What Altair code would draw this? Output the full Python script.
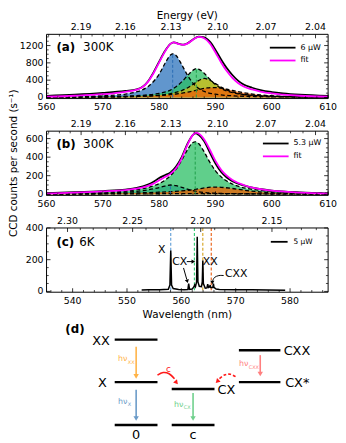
import altair as alt
import pandas as pd

FONT = "DejaVu Sans"
W, H = 285, 65
HD = 115
HC = 1239.84
TOP_A, TOP_B, TOP_C, TOP_D = 0, 98, 196, 296
H_TOTAL = TOP_D + HD

# ---------------- panel (a) ----------------
a_xdom = [560, 610]
a_ydom = [-25, 1460]
a_wl = [560, 565, 570, 574, 576, 577, 578, 579, 580, 581, 582, 582.6, 583.5, 584.3, 585, 586, 587, 588, 589, 590,
        591, 592, 593, 594, 595, 596.5, 598, 600, 602, 605, 610]
a_data = [38, 65, 105, 150, 185, 240, 370, 580, 830, 1070, 1240, 1275, 1240, 1220, 1250, 1340, 1405, 1390, 1290, 1100,
          880, 680, 520, 390, 300, 225, 170, 125, 95, 65, 38]
a_fit = [20, 40, 75, 130, 180, 235, 360, 560, 810, 1055, 1240, 1272, 1235, 1218, 1245, 1335, 1400, 1370, 1250, 1040,
         810, 610, 455, 335, 255, 185, 135, 92, 66, 40, 20]
a_blue_wl = [560, 565, 570, 574, 576, 577, 578, 579, 580, 581, 582, 582.4, 583, 584, 585, 586, 587, 588, 590, 593, 597, 603, 610]
a_blue_ct = [10, 20, 40, 80, 130, 175, 250, 370, 540, 780, 980, 1010, 970, 760, 520, 330, 210, 140, 75, 40, 22, 12, 8]
a_green_wl = [560, 565, 570, 575, 578, 580, 581, 582, 583, 584, 585, 586, 586.6, 587, 588, 589, 590, 591, 592, 594, 597, 600, 605, 610]
a_green_ct = [6, 10, 18, 35, 60, 95, 125, 170, 250, 360, 500, 630, 670, 655, 560, 420, 300, 210, 150, 85, 45, 28, 15, 9]
a_yel_wl = [560, 570, 576, 580, 582, 584, 585, 586, 587, 588, 589, 590, 591, 592, 594, 597, 600, 605, 610]
a_yel_ct = [4, 10, 25, 55, 90, 160, 220, 300, 390, 440, 400, 320, 240, 175, 95, 48, 28, 14, 8]
a_org_wl = [560, 570, 576, 580, 583, 585, 587, 588.5, 589.5, 590.5, 592, 594, 596, 598, 601, 605, 610]
a_org_ct = [4, 10, 25, 45, 80, 120, 180, 220, 230, 222, 190, 135, 90, 58, 32, 17, 9]
a_peak_wl = [582.4, 586.6]
a_peak_ct = [1010, 670]

# ---------------- panel (b) ----------------
b_xdom = [560, 610]
b_ydom = [-12, 680]
b_wl = [560, 565, 570, 574, 576, 578, 579, 580, 581, 582, 583, 584, 585, 586, 586.5, 587, 588, 589, 590, 591,
        592, 593, 595, 597, 600, 605, 610]
b_data = [12, 22, 35, 50, 68, 105, 135, 175, 205, 235, 300, 400, 540, 640, 655, 640, 570, 450, 330, 240,
          180, 140, 95, 65, 40, 20, 10]
b_fit = [8, 18, 30, 45, 60, 90, 115, 150, 185, 220, 280, 385, 530, 640, 664, 655, 590, 480, 360, 265,
         200, 155, 100, 65, 38, 18, 8]
b_blue_wl = [560, 565, 570, 574, 577, 579, 580, 581, 582, 583, 584, 585, 586, 588, 590, 594, 600, 610]
b_blue_ct = [3, 6, 12, 22, 38, 58, 72, 88, 100, 92, 75, 55, 38, 20, 11, 5, 3, 1]
b_green_wl = [560, 570, 576, 579, 581, 583, 584, 585, 586, 586.4, 587, 588, 589, 590, 592, 594, 597, 600, 605, 610]
b_green_ct = [8, 21, 50, 91, 150, 270, 366, 476, 557, 565, 546, 455, 345, 253, 142, 87, 49, 31, 17, 11]
b_yel_wl = [560, 570, 578, 584, 588, 592, 598, 605, 610]
b_yel_ct = [2, 3, 5, 7, 8, 7, 5, 3, 2]
b_org_wl = [560, 565, 570, 575, 579, 582, 585, 587, 588.5, 589.5, 591, 593, 595, 597, 600, 604, 610]
b_org_ct = [3, 5, 8, 13, 20, 28, 42, 58, 72, 78, 75, 62, 45, 30, 17, 9, 4]
b_peak_wl = [582.0, 586.4]
b_peak_ct = [100, 565]

# ---------------- panel (c) ----------------
c_xdom = [535.2, 587.0]
c_ydom = [-5, 400]
c_wl = [552.7, 554, 556, 557.6, 557.9, 558.05, 558.2, 558.5, 559.5, 560.5,
        561.2, 561.35, 561.5, 562.0, 562.3, 562.45, 562.6, 562.8, 562.92, 563.05,
        563.3, 563.7, 563.85, 563.95, 564.05, 564.4, 564.7, 564.85, 565.0, 565.2,
        565.3, 565.4, 565.8, 565.9, 566.0, 566.4, 567, 570, 573, 576, 579.1]
c_data = [9, 10, 11, 13, 40, 258, 40, 18, 12, 11,
          12, 49, 13, 15, 28, 40, 30, 60, 345, 60,
          32, 30, 60, 195, 50, 20, 22, 45, 25, 28,
          40, 25, 25, 50, 25, 15, 12, 11, 10, 9, 8]
c_line_wl = [558.05, 562.4, 563.95, 565.5]
c_line_col = ["#5b9bd5", "#2ecc71", "#d4a017", "#e8590c"]
c_ann_txt = ["X", "CX", "XX", "CXX"]
c_ann_wl = [556.4, 559.7, 565.3, 570.1]
c_ann_ct = [262, 188, 188, 108]

# ticks
x_maj_ab = [560, 570, 580, 590, 600, 610]
x_min_ab = [562, 564, 566, 568, 572, 574, 576, 578, 582, 584, 586, 588, 592, 594, 596, 598, 602, 604, 606, 608]
e_maj_ab = [2.19, 2.16, 2.13, 2.10, 2.07, 2.04]
e_min_ab = [2.2125, 2.205, 2.1975, 2.1825, 2.175, 2.1675, 2.1525, 2.145, 2.1375, 2.1225, 2.115, 2.1075,
            2.0925, 2.085, 2.0775, 2.0625, 2.055, 2.0475]
x_maj_c = [540, 550, 560, 570, 580]
x_min_c = [536, 538, 542, 544, 546, 548, 552, 554, 556, 558, 562, 564, 566, 568, 572, 574, 576, 578, 582, 584, 586]
e_maj_c = [2.30, 2.25, 2.20, 2.15]
e_min_c = [2.31, 2.29, 2.28, 2.27, 2.26, 2.24, 2.23, 2.22, 2.21, 2.19, 2.18, 2.17, 2.16, 2.14, 2.13, 2.12]
y_maj_a = [0, 400, 800, 1200]
y_min_a = [100, 200, 300, 500, 600, 700, 900, 1000, 1100, 1300, 1400]
y_maj_b = [0, 200, 400, 600]
y_min_b = [50, 100, 150, 250, 300, 350, 450, 500, 550, 650]
y_maj_c = [0, 200, 400]
y_min_c = [50, 100, 150, 250, 300, 350]

# legends
leg_a = ["6 μW", "fit"]
leg_b = ["5.3 μW", "fit"]
leg_c = ["5 μW"]

COMP_COLS = ["#3a7cc0", "#2bbf64", "#e6b800", "#e8650a"]
COMP_OPAC = [0.8, 0.75, 0.65, 0.8]
LBL = 9.5


def scales(xdom, ydom, top, h=H):
    xs = alt.Scale(domain=xdom, range=[0, W], nice=False, zero=False)
    ys = alt.Scale(domain=ydom, range=[top + h, top], nice=False, zero=False)
    return xs, ys


def line(wl, ct, xs, ys, color, width=1.5, dash=None, interp="monotone"):
    df = pd.DataFrame({"wl": wl, "ct": ct})
    props = dict(color=color, strokeWidth=width, interpolate=interp)
    if dash is not None:
        props["strokeDash"] = dash
    return alt.Chart(df).mark_line(**props).encode(
        x=alt.X("wl:Q", scale=xs, axis=None), y=alt.Y("ct:Q", scale=ys, axis=None))


def area(wl, ct, xs, ys, color, op):
    df = pd.DataFrame({"wl": wl, "ct": ct, "z": [0] * len(wl)})
    return alt.Chart(df).mark_area(color=color, opacity=op, interpolate="monotone").encode(
        x=alt.X("wl:Q", scale=xs, axis=None), y=alt.Y("ct:Q", scale=ys, axis=None), y2="z:Q")


def poly(xv, yv, xs, ys, color, width=1.0, dash=None, interp="linear"):
    df = pd.DataFrame({"x": xv, "y": yv, "i": list(range(len(xv)))})
    props = dict(color=color, strokeWidth=width, interpolate=interp)
    if dash is not None:
        props["strokeDash"] = dash
    return alt.Chart(df).mark_line(**props).encode(
        x=alt.X("x:Q", scale=xs, axis=None), y=alt.Y("y:Q", scale=ys, axis=None), order="i:Q")


def head(x, y, xs, ys, shape, angle, color, size=22):
    df = pd.DataFrame({"x": [x], "y": [y]})
    return alt.Chart(df).mark_point(shape=shape, angle=angle, filled=True, size=size, color=color,
                                    opacity=1, strokeWidth=0).encode(
        x=alt.X("x:Q", scale=xs, axis=None), y=alt.Y("y:Q", scale=ys, axis=None))


def txt(s, x, y, size, weight="normal", align="left", color="black", baseline="middle", angle=0):
    return alt.Chart(pd.DataFrame({"t": [s]})).mark_text(
        align=align, baseline=baseline, fontSize=size, fontWeight=weight, color=color, font=FONT,
        angle=angle).encode(x=alt.value(x), y=alt.value(y), text="t:N")


def hrule(x1, x2, y, color, width=1.8):
    return alt.Chart(pd.DataFrame({"k": [0]})).mark_rule(color=color, strokeWidth=width).encode(
        x=alt.value(x1), x2=alt.value(x2), y=alt.value(y))


def frame(top):
    return alt.Chart(pd.DataFrame({"k": [0]})).mark_rect(fillOpacity=0, stroke="black", strokeWidth=1).encode(
        x=alt.value(0), x2=alt.value(W), y=alt.value(top), y2=alt.value(top + H))


def axes_layers(xs, ys, top, xmaj, xmin, emaj, emin, ymaj, ymin, xtitle=None, etitle=None, ytitle=None):
    L = []
    bot = top + H
    major, minor = 4.0, 2.2
    # ticks
    L.append(alt.Chart(pd.DataFrame({"v": xmaj})).mark_rule(color="black", strokeWidth=0.8).encode(
        x=alt.X("v:Q", scale=xs, axis=None), y=alt.value(bot), y2=alt.value(bot - major)))
    L.append(alt.Chart(pd.DataFrame({"v": xmin})).mark_rule(color="black", strokeWidth=0.7).encode(
        x=alt.X("v:Q", scale=xs, axis=None), y=alt.value(bot), y2=alt.value(bot - minor)))
    L.append(alt.Chart(pd.DataFrame({"e": emaj})).transform_calculate(nm="1239.84/datum.e").mark_rule(
        color="black", strokeWidth=0.8).encode(
        x=alt.X("nm:Q", scale=xs, axis=None), y=alt.value(top), y2=alt.value(top + major)))
    L.append(alt.Chart(pd.DataFrame({"e": emin})).transform_calculate(nm="1239.84/datum.e").mark_rule(
        color="black", strokeWidth=0.7).encode(
        x=alt.X("nm:Q", scale=xs, axis=None), y=alt.value(top), y2=alt.value(top + minor)))
    for xa, sgn in ((0, 1), (W, -1)):
        L.append(alt.Chart(pd.DataFrame({"v": ymaj})).mark_rule(color="black", strokeWidth=0.8).encode(
            y=alt.Y("v:Q", scale=ys, axis=None), x=alt.value(xa), x2=alt.value(xa + sgn * major)))
        L.append(alt.Chart(pd.DataFrame({"v": ymin})).mark_rule(color="black", strokeWidth=0.7).encode(
            y=alt.Y("v:Q", scale=ys, axis=None), x=alt.value(xa), x2=alt.value(xa + sgn * minor)))
    L.append(frame(top))
    # tick labels
    L.append(alt.Chart(pd.DataFrame({"v": xmaj, "t": [str(v) for v in xmaj]})).mark_text(
        fontSize=LBL, font=FONT, align="center", baseline="top").encode(
        x=alt.X("v:Q", scale=xs, axis=None), y=alt.value(bot + 3.5), text="t:N"))
    L.append(alt.Chart(pd.DataFrame({"e": emaj, "t": ["%.2f" % e for e in emaj]})).transform_calculate(
        nm="1239.84/datum.e").mark_text(fontSize=LBL, font=FONT, align="center", baseline="bottom").encode(
        x=alt.X("nm:Q", scale=xs, axis=None), y=alt.value(top - 2.5), text="t:N"))
    L.append(alt.Chart(pd.DataFrame({"v": ymaj, "t": [str(v) for v in ymaj]})).mark_text(
        fontSize=LBL, font=FONT, align="right", baseline="middle").encode(
        y=alt.Y("v:Q", scale=ys, axis=None), x=alt.value(-3), text="t:N"))
    if xtitle:
        L.append(txt(xtitle, W / 2, bot + 23, 10.5, align="center"))
    if etitle:
        L.append(txt(etitle, W / 2, top - 19, 10.5, align="center"))
    if ytitle:
        L.append(txt(ytitle, -33, top + H / 2, 10.5, align="center", angle=270))
    return L


def fit_panel(xdom, ydom, top, comps, peaks_wl, peaks_ct, peak_cols, data_wl, data_ct, fit_ct, legend, label,
              lx, ly, ymaj, ymin, etitle=None, ytitle=None):
    xs, ys = scales(xdom, ydom, top)
    L = []
    for (wl, ct), col, op in zip(comps, COMP_COLS, COMP_OPAC):
        L.append(area(wl, ct, xs, ys, col, op))
    for wl, ct in comps:
        L.append(line(wl, ct, xs, ys, "black", width=1.3, dash=[4, 2.5]))
    for w, c, col in zip(peaks_wl, peaks_ct, peak_cols):
        L.append(alt.Chart(pd.DataFrame({"wl": [w], "lo": [0], "hi": [c]})).mark_rule(
            color=col, strokeWidth=1.0, strokeDash=[3, 2]).encode(
            x=alt.X("wl:Q", scale=xs, axis=None), y=alt.Y("lo:Q", scale=ys, axis=None), y2="hi:Q"))
    L.append(line(data_wl, data_ct, xs, ys, "black", width=1.8))
    L.append(line(data_wl, fit_ct, xs, ys, "#ff00ff", width=1.8))
    L += axes_layers(xs, ys, top, x_maj_ab, x_min_ab, e_maj_ab, e_min_ab, ymaj, ymin,
                     etitle=etitle, ytitle=ytitle)
    L.append(hrule(lx, lx + 26, top + ly, "black"))
    L.append(hrule(lx, lx + 26, top + ly + 13, "#ff00ff"))
    L.append(txt(legend[0], lx + 31, top + ly, 8))
    L.append(txt(legend[1], lx + 31, top + ly + 13, 8))
    L.append(txt("(" + label + ")", 10, top + 13, 12, weight="bold"))
    L.append(txt("300K", 37, top + 13, 12))
    return L


layers = []
layers += fit_panel(a_xdom, a_ydom, TOP_A,
                    [(a_blue_wl, a_blue_ct), (a_green_wl, a_green_ct), (a_yel_wl, a_yel_ct), (a_org_wl, a_org_ct)],
                    a_peak_wl, a_peak_ct, ["#2a6db5", "#1e9e4a"], a_wl, a_data, a_fit, leg_a, "a", 226, 13.5,
                    y_maj_a, y_min_a, etitle="Energy (eV)")
layers += fit_panel(b_xdom, b_ydom, TOP_B,
                    [(b_blue_wl, b_blue_ct), (b_green_wl, b_green_ct), (b_yel_wl, b_yel_ct), (b_org_wl, b_org_ct)],
                    b_peak_wl, b_peak_ct, ["#2a6db5", "#1e9e4a"], b_wl, b_data, b_fit, leg_b, "b", 219, 12.5,
                    y_maj_b, y_min_b, ytitle="CCD counts per second (s⁻¹)")

# panel (c)
xs_c, ys_c = scales(c_xdom, c_ydom, TOP_C)
for w, col in zip(c_line_wl, c_line_col):
    layers.append(alt.Chart(pd.DataFrame({"wl": [w]})).mark_rule(color=col, strokeWidth=1.1, strokeDash=[3, 2]).encode(
        x=alt.X("wl:Q", scale=xs_c, axis=None), y=alt.value(TOP_C), y2=alt.value(TOP_C + H)))
layers.append(line(c_wl, c_data, xs_c, ys_c, "black", width=1.5, interp="linear"))
layers.append(alt.Chart(pd.DataFrame({"t": c_ann_txt, "wl": c_ann_wl, "ct": c_ann_ct})).mark_text(
    fontSize=11, font=FONT, color="black", align="center", baseline="middle").encode(
    x=alt.X("wl:Q", scale=xs_c, axis=None), y=alt.Y("ct:Q", scale=ys_c, axis=None), text="t:N"))
layers.append(poly([561.0, 562.0], [188, 188], xs_c, ys_c, "black", 1.0))
layers.append(head(562.2, 188, xs_c, ys_c, "triangle-right", 0, "black", 18))
layers.append(poly([560.4, 561.0], [148, 75], xs_c, ys_c, "black", 1.0))
layers.append(head(561.1, 64, xs_c, ys_c, "triangle-down", 343, "black", 18))
layers.append(poly([567.8, 566.9, 566.1, 565.75], [100, 100, 88, 66], xs_c, ys_c, "black", 1.0, interp="cardinal"))
layers.append(head(565.7, 56, xs_c, ys_c, "triangle-down", 0, "black", 18))
layers += axes_layers(xs_c, ys_c, TOP_C, x_maj_c, x_min_c, e_maj_c, e_min_c, y_maj_c, y_min_c,
                      xtitle="Wavelength (nm)")
layers.append(hrule(227, 244, TOP_C + 14, "black"))
layers.append(txt(leg_c[0], 250, TOP_C + 14, 7.5))
layers.append(txt("(c)", 10, TOP_C + 14, 12, weight="bold"))
layers.append(txt("6K", 33, TOP_C + 14, 12))

# ---------------- panel (d): level diagram ----------------
lev_x1 = [69, 69, 69, 126.7, 126.7, 194.7, 194.7]
lev_x2 = [112.3, 112.3, 112.3, 170, 170, 236.7, 236.7]
lev_y = [13, 56, 99.3, 63, 99.3, 23.7, 56]
lab_r_txt = ["XX", "X"]
lab_r_x = [64, 61]
lab_r_y = [14, 57]
lab_l_txt = ["CX", "CXX", "CX*"]
lab_l_x = [173, 240, 241.5]
lab_l_y = [64, 24.5, 57]
lab_c_txt = ["0", "c"]
lab_c_x = [90.7, 148.3]
lab_c_y = [113.5, 113.5]
arr_x = [90.7, 90.7, 148.3, 216.3]
arr_y1 = [20.3, 63.7, 67, 28.7]
arr_y2 = [52.7, 95.3, 95.3, 50.3]
arr_col = ["#ffb347", "#6b9bc8", "#6fd08c", "#ff7f7f"]
hv_x = [72.3, 72.3, 129, 194.7]
hv_y = [33, 76, 78.7, 38]
hv_sub = ["XX", "X", "CX", "CXX"]
c_arc_x = [112.3, 118, 124, 129.5]
c_arc_y = [49, 46.3, 47.5, 52.5]
cx_arc_x = [191.3, 186, 180, 175]
cx_arc_y = [50.5, 48, 48.8, 52.5]

xs_d = alt.Scale(domain=[0, W], range=[0, W], nice=False, zero=False)
ys_d = alt.Scale(domain=[0, HD], range=[TOP_D, TOP_D + HD], nice=False, zero=False)


def dxy():
    return dict(x=alt.X("x:Q", scale=xs_d, axis=None), y=alt.Y("y:Q", scale=ys_d, axis=None))


layers.append(alt.Chart(pd.DataFrame({"x1": lev_x1, "x2": lev_x2, "y": lev_y})).mark_rule(
    color="black", strokeWidth=2.5).encode(
    x=alt.X("x1:Q", scale=xs_d, axis=None), x2="x2:Q", y=alt.Y("y:Q", scale=ys_d, axis=None)))
layers.append(alt.Chart(pd.DataFrame({"t": lab_r_txt, "x": lab_r_x, "y": lab_r_y})).mark_text(
    fontSize=13, font=FONT, align="right", baseline="middle").encode(text="t:N", **dxy()))
layers.append(alt.Chart(pd.DataFrame({"t": lab_l_txt, "x": lab_l_x, "y": lab_l_y})).mark_text(
    fontSize=13, font=FONT, align="left", baseline="middle").encode(text="t:N", **dxy()))
layers.append(alt.Chart(pd.DataFrame({"t": lab_c_txt, "x": lab_c_x, "y": lab_c_y})).mark_text(
    fontSize=13, font=FONT, align="center", baseline="alphabetic").encode(text="t:N", **dxy()))
layers.append(alt.Chart(pd.DataFrame({"x": arr_x, "y1": arr_y1, "y2": [v - 3 for v in arr_y2], "c": arr_col})).mark_rule(
    strokeWidth=1.6).encode(
    x=alt.X("x:Q", scale=xs_d, axis=None), y=alt.Y("y1:Q", scale=ys_d, axis=None), y2="y2:Q",
    color=alt.Color("c:N", scale=None)))
layers.append(alt.Chart(pd.DataFrame({"x": arr_x, "y": [v - 2.5 for v in arr_y2], "c": arr_col})).mark_point(
    shape="triangle-down", filled=True, size=30, opacity=1, strokeWidth=0).encode(
    color=alt.Color("c:N", scale=None), **dxy()))
layers.append(alt.Chart(pd.DataFrame({"x": hv_x, "y": hv_y, "c": arr_col, "t": ["hν"] * 4})).mark_text(
    fontSize=8, font=FONT, align="left", baseline="middle").encode(
    text="t:N", color=alt.Color("c:N", scale=None), **dxy()))
layers.append(alt.Chart(pd.DataFrame({"x": [v + 10 for v in hv_x], "y": [v + 2.5 for v in hv_y], "c": arr_col,
                                      "t": hv_sub})).mark_text(
    fontSize=5, font=FONT, align="left", baseline="middle").encode(
    text="t:N", color=alt.Color("c:N", scale=None), **dxy()))
layers.append(poly(c_arc_x, c_arc_y, xs_d, ys_d, "#ff1a1a", 1.6, interp="cardinal"))
layers.append(head(131.5, 56.5, xs_d, ys_d, "triangle-down", 320, "#ff1a1a", 26))
layers.append(alt.Chart(pd.DataFrame({"t": ["c"], "x": [123.3], "y": [43]})).mark_text(
    fontSize=9, font=FONT, color="#ff1a1a", align="center", baseline="middle").encode(text="t:N", **dxy()))
layers.append(poly(cx_arc_x, cx_arc_y, xs_d, ys_d, "#ff1a1a", 1.6, dash=[3, 2], interp="cardinal"))
layers.append(head(172.8, 55.3, xs_d, ys_d, "triangle-down", 45, "#ff1a1a", 26))
layers.append(txt("(d)", 19, TOP_D + 2, 12, weight="bold"))

chart = alt.layer(*layers).resolve_scale(x="independent", y="independent").properties(
    width=W, height=H_TOTAL, padding=0
).configure(font=FONT).configure_view(strokeWidth=0)

chart.save("out.html", embed_options={"renderer": "svg", "actions": False})
